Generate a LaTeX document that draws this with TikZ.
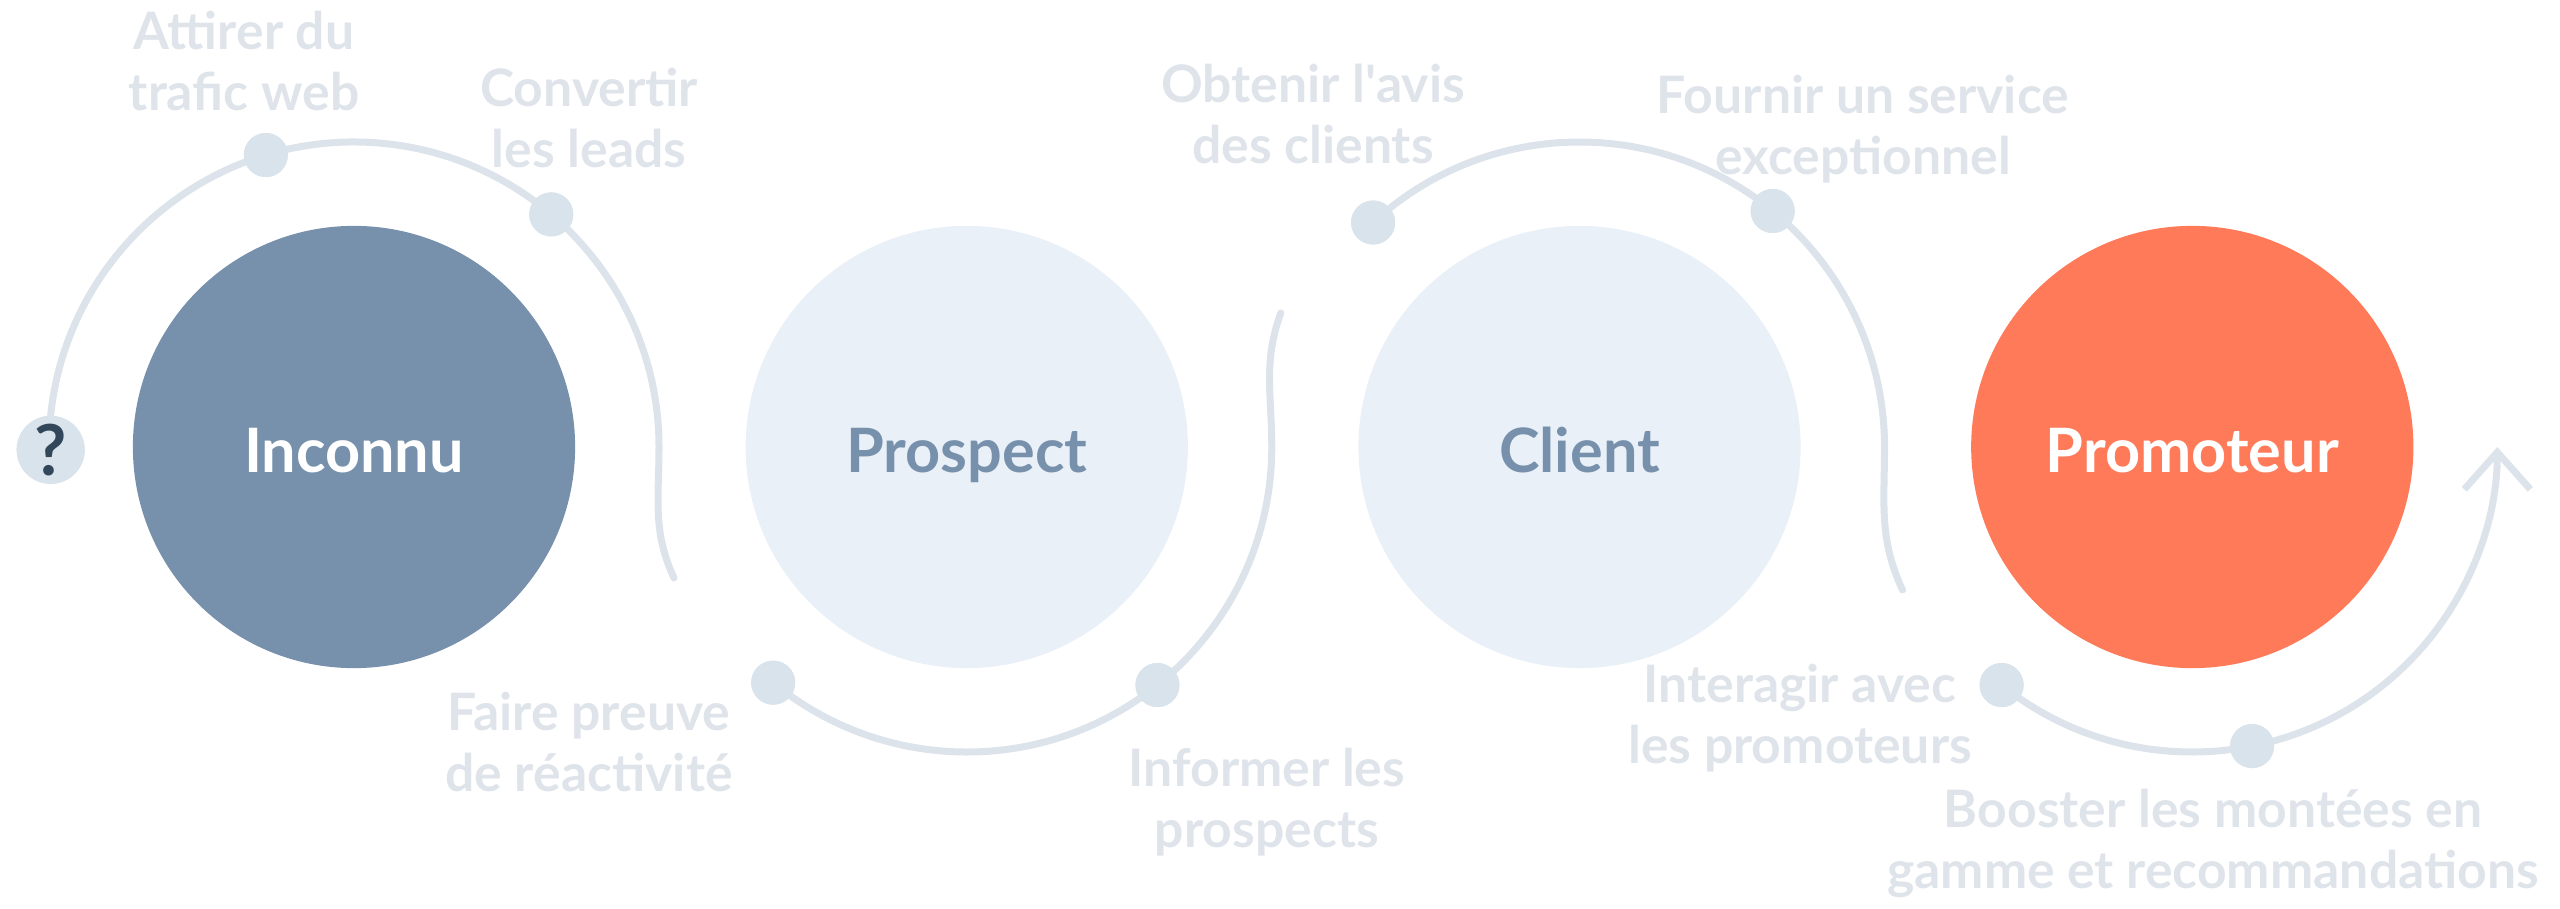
\documentclass[tikz,border=0pt]{standalone}
\usepackage{fontspec}
\setmainfont{Lato}
\usetikzlibrary{positioning,arrows.meta}
\definecolor{slate}{HTML}{7791AD}
\definecolor{mist}{HTML}{EAF0F8}
\definecolor{coral}{HTML}{FF7A59}
\definecolor{trailgray}{HTML}{DCE3EA}
\definecolor{dotgray}{HTML}{D9E3EB}
\definecolor{labelgray}{HTML}{DFE4EB}
\definecolor{ink}{HTML}{33475B}
\begin{document}
\begin{tikzpicture}[x=0.01cm, y=0.01cm,
    stage/.style={shape=circle, minimum size=4.42cm, inner sep=0pt,
      font=\fontsize{17.4pt}{20pt}\selectfont\bfseries, text height=0.5cm, text depth=0pt},
    milestone/.style={shape=circle, fill=dotgray, minimum size=0.44cm, inner sep=0pt},
    asker/.style={milestone, minimum size=0.68cm, text=ink,
      font=\fontsize{20pt}{22pt}\selectfont\bfseries},
    trail/.style={draw=trailgray, line width=0.07cm, line cap=round},
    tagline/.style={anchor=north, inner sep=0pt, align=center, text=labelgray,
      font=\fontsize{14.7pt}{17.4pt}\selectfont\bfseries}]
  \useasboundingbox (0,0) rectangle (2560,908);
  \node[stage, fill=slate, text=white] (inconnu) at (354,461) {Inconnu};
  \node[stage, fill=mist, text=slate, right=1.69cm of inconnu] (prospect) {Prospect};
  \node[stage, fill=mist, text=slate, right=1.69cm of prospect] (client) {Client};
  \node[stage, fill=coral, text=white, right=1.69cm of client] (promoteur) {Promoteur};

  \coordinate (hook1) at ([shift={(320,-131)}]inconnu.center);
  \coordinate (hook2) at ([shift={(314,134)}]prospect.center);
  \coordinate (hook3) at ([shift={(323,-143)}]client.center);

  \node[asker, anchor=north] (question) at ([shift={(174:305)}]inconnu.center) {};
  \node[milestone] (trafic) at ([shift={(106.8:305)}]inconnu.center) {};
  \node[milestone] (leads) at ([shift={(49.7:305)}]inconnu.center) {};
  \node[milestone] (informer) at ([shift={(-51.3:305)}]prospect.center) {};
  \node[milestone] (reactivite) at ([shift={(-129.4:305)}]prospect.center) {};
  \node[milestone] (avis) at ([shift={(132.6:305)}]client.center) {};
  \node[milestone] (service) at ([shift={(50.7:305)}]client.center) {};
  \node[milestone] (interagir) at ([shift={(-128.7:305)}]promoteur.center) {};
  \node[milestone] (booster) at ([shift={(-78.7:305)}]promoteur.center) {};

  \draw[trail] (question.north) arc[start angle=174, end angle=0, radius=305] to[out=-90, in=115] (hook1);
  \draw[trail] (hook2) to[out=-110, in=90] ([shift={(0:305)}]prospect.center) arc[start angle=0, end angle=-129.4, radius=305];
  \draw[trail] (avis.center) arc[start angle=132.6, end angle=0, radius=305] to[out=-90, in=115] (hook3);
  \draw[trail, -{Straight Barb[length=0.37cm, width=0.66cm]}] (interagir.center) arc[start angle=-128.7, end angle=0, radius=305];
  \foreach \m in {trafic,leads,informer,reactivite,avis,service,interagir,booster}
    \node[milestone] at (\m) {};
  \node[asker] at (question) {?};

  \node[tagline] (t-trafic) at (244,898) {Attirer du\\trafic web};
  \node[tagline] (t-leads) at (589,841) {Convertir\\les leads};
  \node[tagline] (t-reactivite) at (589,217) {Faire preuve\\de réactivité};
  \node[tagline] (t-informer) at (1267,161) {Informer les\\prospects};
  \node[tagline] (t-avis) at (1313,845) {Obtenir l\textquotesingle avis\\des clients};
  \node[tagline] (t-service) at (1863,834) {Fournir un service\\exceptionnel};
  \node[tagline] (t-interagir) at (1800,245) {Interagir avec\\les promoteurs};
  \node[tagline] (t-booster) at (2213,120) {Booster les montées en\\gamme et recommandations};
\end{tikzpicture}
\end{document}
